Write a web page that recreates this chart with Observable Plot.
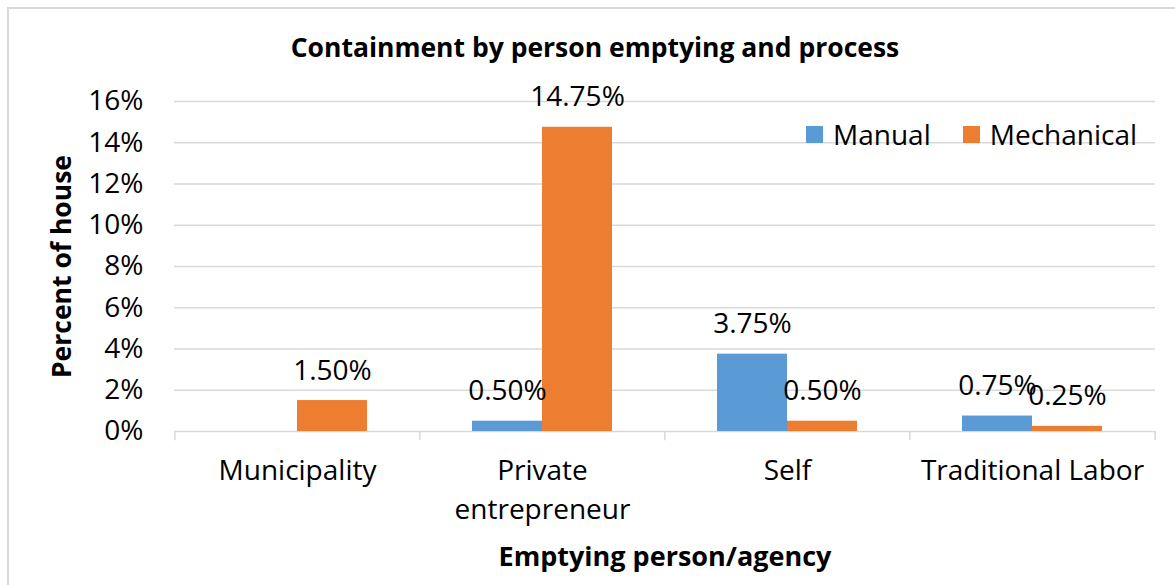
<!DOCTYPE html>
<html>
<head>
<meta charset="utf-8">
<script src="https://cdn.jsdelivr.net/npm/d3@7"></script>
<script src="https://cdn.jsdelivr.net/npm/@observablehq/plot@0.6"></script>
<style>
  html, body { margin: 0; padding: 0; background: #fff; overflow: hidden; width: 1175px; height: 585px; }
  body { position: relative; font-family: "Open Sans", sans-serif; }
  #frame { position: absolute; left: 7px; top: 7px; width: 1200px; height: 620px; border-left: 2px solid #d9d9d9; border-top: 2px solid #d9d9d9; }
  #title { position: absolute; left: 0; width: 1190px; top: 29px; text-align: center; font-weight: 700; font-size: 26.5px; color: #000; }
  #chart { position: absolute; left: 0; top: 0; }
  #legend { position: absolute; left: 806px; top: 115px; display: flex; align-items: center; font-size: 28px; color: #000; }
  .sw { width: 17px; height: 17px; display: inline-block; margin-right: 10px; }
  .item { display: flex; align-items: center; margin-right: 32px; }
</style>
</head>
<body>
<div id="frame"></div>
<div id="chart"></div>
<div id="title">Containment by person emptying and process</div>
<div id="legend"></div>
<script>
const categories = ["Municipality", "Private entrepreneur", "Self", "Traditional Labor"];
const series = ["Manual", "Mechanical"];
const manual = [0, 0.005, 0.0375, 0.0075];
const mechanical = [0.015, 0.1475, 0.005, 0.0025];
const colors = ["#5B9BD5", "#ED7D31"];
const yTicks = [0, 0.02, 0.04, 0.06, 0.08, 0.10, 0.12, 0.14, 0.16];
const categoryLabels = { "Private entrepreneur": "Private\nentrepreneur" };

const data = [];
categories.forEach((c, i) => {
  data.push({ category: c, series: "Manual", value: manual[i] });
  data.push({ category: c, series: "Mechanical", value: mechanical[i] });
});
const manualData = data.filter(d => d.series === "Manual");
const mechData = data.filter(d => d.series === "Mechanical");

const W = 1175, H = 585;
const marginLeft = 174, marginRight = 20, marginTop = 101, marginBottom = 154;
const step = (W - marginLeft - marginRight) / categories.length;
const barW = 70;
const pInner = 1 - barW / step;

const fmt = v => (v * 100).toFixed(2) + "%";

const chart = Plot.plot({
  width: W,
  height: H,
  marginLeft, marginRight, marginTop, marginBottom,
  style: { fontFamily: "'Open Sans', sans-serif", background: "transparent", overflow: "visible" },
  x: { domain: categories, paddingInner: pInner, paddingOuter: pInner / 2, axis: null },
  y: { domain: [0, 0.16], axis: null },
  color: { domain: series, range: colors },
  marks: [
    Plot.ruleY(yTicks, { stroke: "#d9d9d9", strokeWidth: 1.5 }),
    // category boundary ticks
    Plot.ruleX(categories, { x: d => d, dx: -step / 2, y1: 0, y2: -0.0045, stroke: "#d9d9d9", strokeWidth: 1.5 }),
    Plot.ruleX(categories.slice(-1), { x: d => d, dx: step / 2, y1: 0, y2: -0.0045, stroke: "#d9d9d9", strokeWidth: 1.5 }),
    Plot.barY(manualData, { x: "category", y: "value", fill: "series", dx: -barW / 2 }),
    Plot.barY(mechData, { x: "category", y: "value", fill: "series", dx: barW / 2 }),
    Plot.text(manualData.filter(d => d.value > 0), { x: "category", y: "value", text: d => fmt(d.value), dx: -barW / 2, dy: -30, fontSize: 28, fill: "#000" }),
    Plot.text(mechData, { x: "category", y: "value", text: d => fmt(d.value), dx: barW / 2, dy: -30, fontSize: 28, fill: "#000" }),
    Plot.axisY({ ticks: yTicks, tickFormat: d => Math.round(d * 100) + "%", tickSize: 0, tickPadding: 31, fontSize: 28, label: null, color: "#000" }),
    Plot.axisX({ tickFormat: d => categoryLabels[d] || d, tickSize: 0, tickPadding: 20, fontSize: 28, lineHeight: 1.42, label: null, color: "#000" }),
    Plot.text(["Percent of house"], { frameAnchor: "left", textAnchor: "middle", rotate: -90, dx: -112, text: d => d, fontSize: 26.5, fontWeight: 700, fill: "#000" }),
    Plot.text(["Emptying person/agency"], { frameAnchor: "bottom", textAnchor: "middle", dy: 134, text: d => d, fontSize: 27, fontWeight: 700, fill: "#000" })
  ]
});
document.getElementById("chart").appendChild(chart);

const legend = document.getElementById("legend");
series.forEach((s, i) => {
  const it = document.createElement("div");
  it.className = "item";
  const sw = document.createElement("span");
  sw.className = "sw";
  sw.style.background = colors[i];
  it.appendChild(sw);
  it.appendChild(document.createTextNode(s));
  legend.appendChild(it);
});
</script>
</body>
</html>
